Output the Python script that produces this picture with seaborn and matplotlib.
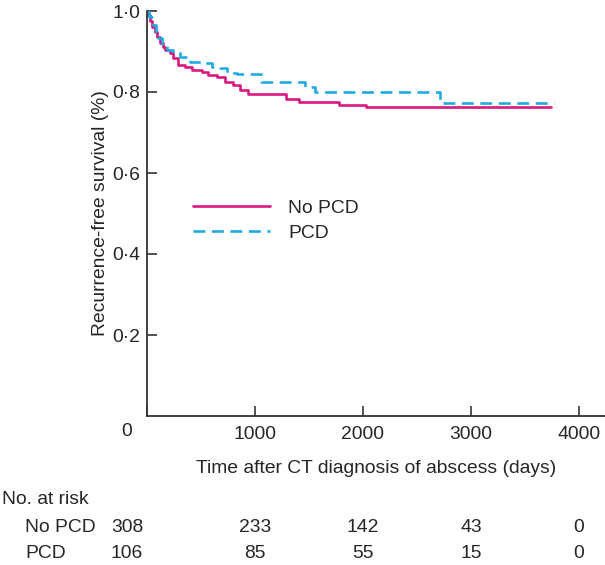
import pandas as pd
import seaborn as sns
import matplotlib
matplotlib.use('Agg')
import matplotlib.pyplot as plt
import matplotlib.transforms as mtransforms

# Kaplan-Meier step data (time in days, survival)
no_pcd_time = [0, 10, 28, 45, 74, 95, 120, 145, 167, 213, 241, 287, 352, 417, 509,
               565, 648, 722, 796, 861, 935, 1287, 1407, 1778, 2028, 3740]
no_pcd_surv = [1.0, 0.99, 0.975, 0.96, 0.948, 0.935, 0.921, 0.91, 0.904, 0.896, 0.884,
               0.867, 0.862, 0.854, 0.849, 0.842, 0.837, 0.825, 0.817, 0.805, 0.795,
               0.782, 0.776, 0.769, 0.762, 0.762]

pcd_time = [0, 20, 56, 80, 102, 140, 185, 241, 306, 398, 519, 602, 676, 741, 833,
            1055, 1463, 1555, 2713, 3770]
pcd_surv = [1.0, 0.985, 0.965, 0.948, 0.933, 0.915, 0.904, 0.896, 0.886, 0.874, 0.872,
            0.862, 0.859, 0.847, 0.844, 0.825, 0.812, 0.800, 0.773, 0.773]

groups = ['No PCD', 'PCD']
colors = ['#d9197f', '#1eabe3']

# numbers at risk table
risk_times = [0, 1000, 2000, 3000, 4000]
risk_no_pcd = [308, 233, 142, 43, 0]
risk_pcd = [106, 85, 55, 15, 0]

x_ticks = [0, 1000, 2000, 3000, 4000]
y_ticks = [0.2, 0.4, 0.6, 0.8, 1.0]

df = pd.concat([
    pd.DataFrame({'time': no_pcd_time, 'surv': no_pcd_surv, 'group': groups[0]}),
    pd.DataFrame({'time': pcd_time, 'surv': pcd_surv, 'group': groups[1]}),
])

sns.set_style('ticks')
plt.rcParams['font.family'] = ['Liberation Sans', 'DejaVu Sans']
fs = 13.9

fig = plt.figure(figsize=(6.05, 5.65), dpi=100)
ax = fig.add_axes([147 / 605, 1 - 416 / 565, 458 / 605, 405 / 565])

sns.lineplot(data=df, x='time', y='surv', hue='group', style='group',
             palette=dict(zip(groups, colors)),
             dashes={'No PCD': '', 'PCD': (4.5, 2.5)},
             drawstyle='steps-post', estimator=None, linewidth=1.9, ax=ax)

ax.set_xlim(0, 4241)
ax.set_ylim(0, 1.0)
ax.set_xticks(x_ticks)
ax.set_xticklabels(['' if t == 0 else str(t) for t in x_ticks])
ax.set_yticks(y_ticks)
ax.set_yticklabels([f'{v:.1f}'.replace('.', '\u00b7') for v in y_ticks])
ax.tick_params(direction='in', length=7, width=1.2, color='#333333',
               labelsize=fs, pad=5)
ax.tick_params(axis='x', pad=7)
for side in ['top', 'right']:
    ax.spines[side].set_visible(False)
for side in ['left', 'bottom']:
    ax.spines[side].set_linewidth(1.3)
    ax.spines[side].set_color('#333333')

ax.set_xlabel('Time after CT diagnosis of abscess (days)', fontsize=fs)
ax.xaxis.set_label_coords(0.5, -0.108)
ax.set_ylabel('Recurrence-free survival (%)', fontsize=fs)
ax.yaxis.set_label_coords(-0.083, 0.5)

# corner zero
ax.text(-20 / 458, -16 / 405, '0', transform=ax.transAxes, fontsize=fs,
        ha='center', va='center')

leg = ax.legend(loc='upper left', bbox_to_anchor=(0.062, 0.578), frameon=False,
                fontsize=fs, handlelength=4.0, handletextpad=0.95, labelspacing=0.4)
for h in leg.get_lines():
    h.set_linewidth(1.9)

# number at risk rows
ytrans = mtransforms.blended_transform_factory(ax.transData, fig.transFigure)
shift = mtransforms.ScaledTranslation(-20 / 100, 0, fig.dpi_scale_trans)
fig.text(2 / 605, 1 - 500 / 565, 'No. at risk', fontsize=fs, ha='left', va='center')
fig.text(25 / 605, 1 - 527 / 565, groups[0], fontsize=fs, ha='left', va='center')
fig.text(25 / 605, 1 - 553 / 565, groups[1], fontsize=fs, ha='left', va='center')
for t, a, b in zip(risk_times, risk_no_pcd, risk_pcd):
    tr = ytrans + shift if t == 0 else ytrans
    ax.text(t, 1 - 527 / 565, str(a), transform=tr, fontsize=fs,
            ha='center', va='center', clip_on=False)
    ax.text(t, 1 - 553 / 565, str(b), transform=tr, fontsize=fs,
            ha='center', va='center', clip_on=False)

fig.savefig('out.png', dpi=100)
